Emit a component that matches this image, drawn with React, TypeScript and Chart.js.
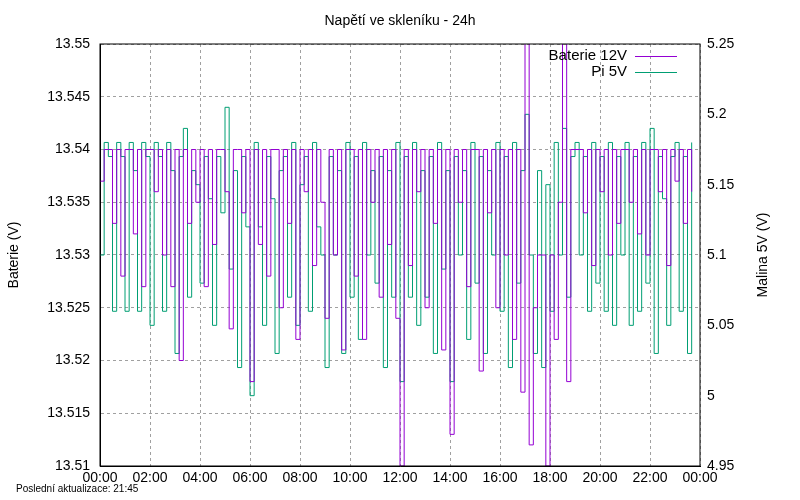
import React, { useEffect, useRef } from "react";
import { Chart, registerables } from "chart.js";
Chart.register(...registerables);

const batMv: number[] = [
  37,40,40,33,40,28, 40,40,32,40,27,40, 40,36,40,30,40,27, 40,20,40,33,40,35,
  40,27,40,31,40,40, 36,23,40,40,34,40, 18,40,31,40,28,40, 40,25,40,33,40,22,
  40,36,40,29,40,35, 24,40,30,40,21,40, 40,28,40,22,40,35, 40,26,40,31,40,24,
  10,40,29,40,36,40, 25,40,33,40,21,40, 13,40,35,40,27,40, 40,19,40,34,40,25,
  40,30,40,22,40,17, 55,12,25,30,30,10, 30,22,35,60,18,40, 40,40,34,40,29,40,
  36,40,30,40,33,40, 40,35,40,32,40,30, 40,40,36,40,29,40, 37,40,33,40,36,
];
const pi5: number[] = [
  5.10,5.18,5.17,5.06,5.18,5.17, 5.06,5.18,5.16,5.06,5.18,5.17, 5.05,5.18,5.17,5.06,5.18,5.16,
  5.03,5.17,5.19,5.07,5.16,5.15, 5.08,5.17,5.14,5.05,5.17,5.13, 5.205,5.09,5.16,5.02,5.17,5.12,
  5.00,5.18,5.12,5.05,5.17,5.14, 5.03,5.16,5.17,5.07,5.18,5.05, 5.15,5.17,5.06,5.18,5.12,5.10,
  5.02,5.17,5.10,5.16,5.03,5.18, 5.07,5.17,5.04,5.18,5.10,5.16, 5.08,5.17,5.02,5.16,5.07,5.18,
  5.01,5.17,5.07,5.18,5.05,5.16, 5.07,5.17,5.03,5.18,5.09,5.16, 5.01,5.17,5.10,5.16,5.04,5.18,
  5.08,5.17,5.03,5.16,5.10,5.18, 5.06,5.17,5.02,5.18,5.08,5.16, 5.20,5.10,5.03,5.16,5.02,5.15,
  5.06,5.18,5.10,5.19,5.07,5.17, 5.18,5.10,5.17,5.06,5.18,5.08, 5.17,5.06,5.18,5.05,5.17,5.10,
  5.18,5.05,5.17,5.06,5.18,5.08, 5.19,5.03,5.17,5.14,5.05,5.17, 5.18,5.06,5.17,5.03,5.18,
];
const stepMin = 10;
const title = "Napětí ve skleníku - 24h";
const leftTitle = "Baterie (V)";
const rightTitle = "Malina 5V (V)";
const seriesNames = ["Baterie 12V", "Pi 5V"];
const footer = "Poslední aktualizace: 21:45";
const colors = ["#9400d3", "#009e73"];
const font = "'Liberation Sans', Arial, sans-serif";

export default function App() {
  const ref = useRef<HTMLCanvasElement>(null);
  useEffect(() => {
    document.body.style.margin = "0";
    const bat = batMv.map((v, i) => ({ x: i * stepMin, y: 13.5 + v / 1000 }));
    const pi = pi5.map((v, i) => ({ x: i * stepMin, y: v }));
    const deco = {
      id: "deco",
      afterDraw(c: any) {
        const ctx = c.ctx;
        const a = c.chartArea;
        ctx.save();
        ctx.fillStyle = "#000";
        ctx.font = `14px ${font}`;
        ctx.textAlign = "center";
        ctx.textBaseline = "middle";
        ctx.fillText(title, 400, 21);
        ctx.save();
        ctx.translate(14, 255);
        ctx.rotate(-Math.PI / 2);
        ctx.fillText(leftTitle, 0, 0);
        ctx.restore();
        ctx.save();
        ctx.translate(763, 255);
        ctx.rotate(-Math.PI / 2);
        ctx.fillText(rightTitle, 0, 0);
        ctx.restore();
        ctx.font = `15px ${font}`;
        ctx.textAlign = "right";
        seriesNames.forEach((n, i) => {
          const y = 56 + i * 16;
          ctx.fillStyle = "#000";
          ctx.fillText(n, 627, y);
          ctx.strokeStyle = colors[i];
          ctx.lineWidth = 1;
          ctx.beginPath();
          ctx.moveTo(635, y + 0.5);
          ctx.lineTo(677, y + 0.5);
          ctx.stroke();
        });
        ctx.font = `10px ${font}`;
        ctx.textAlign = "left";
        ctx.fillStyle = "#000";
        ctx.fillText(footer, 16, 489);
        ctx.strokeStyle = "#000";
        ctx.lineWidth = 1;
        ctx.strokeRect(a.left, a.top, a.right - a.left, a.bottom - a.top);
        ctx.restore();
      },
    };
    const grid = {
      color: "#a0a0a0",
      lineWidth: 1,
      drawTicks: false,
    };
    const chart = new Chart(ref.current!, {
      type: "line",
      data: {
        datasets: [
          { label: seriesNames[0], data: bat, yAxisID: "y", borderColor: colors[0], borderWidth: 1, pointRadius: 0, stepped: true },
          { label: seriesNames[1], data: pi, yAxisID: "y1", borderColor: colors[1], borderWidth: 1, pointRadius: 0, stepped: true },
        ],
      },
      options: {
        animation: false,
        responsive: false,
        layout: { padding: { top: 44, right: 0, left: 0, bottom: 0 } },
        plugins: { legend: { display: false }, tooltip: { enabled: false } },
        scales: {
          x: {
            type: "linear",
            min: 0,
            max: 1440,
            ticks: {
              stepSize: 120,
              color: "#000",
              font: { family: font, size: 14 },
              padding: 4,
              maxRotation: 0,
              callback: (v: any) => {
                const h = Math.round(v / 60) % 24;
                return (h < 10 ? "0" : "") + h + ":00";
              },
            },
            grid: { ...grid },
            border: { display: true, dash: [3, 3], color: "#000" },
            afterFit: (s: any) => { s.height = 34; },
          },
          y: {
            position: "left",
            min: 13.51,
            max: 13.55,
            ticks: {
              stepSize: 0.005,
              color: "#000",
              font: { family: font, size: 14 },
              padding: 10,
              callback: (v: any) => String(+Number(v).toFixed(3)),
            },
            grid: { ...grid },
            border: { display: true, dash: [3, 3], color: "#000" },
            afterFit: (s: any) => { s.width = 100; },
          },
          y1: {
            position: "right",
            min: 4.95,
            max: 5.25,
            ticks: {
              stepSize: 0.05,
              color: "#000",
              font: { family: font, size: 14 },
              padding: 7,
              callback: (v: any) => String(+Number(v).toFixed(2)),
            },
            grid: { display: false, drawTicks: false, tickLength: 0 },
            border: { display: false },
            afterFit: (s: any) => { s.width = 100; },
          },
        },
      },
      plugins: [deco],
    } as any);
    return () => chart.destroy();
  }, []);
  return <canvas ref={ref} width={800} height={500} style={{ display: "block" }} />;
}
